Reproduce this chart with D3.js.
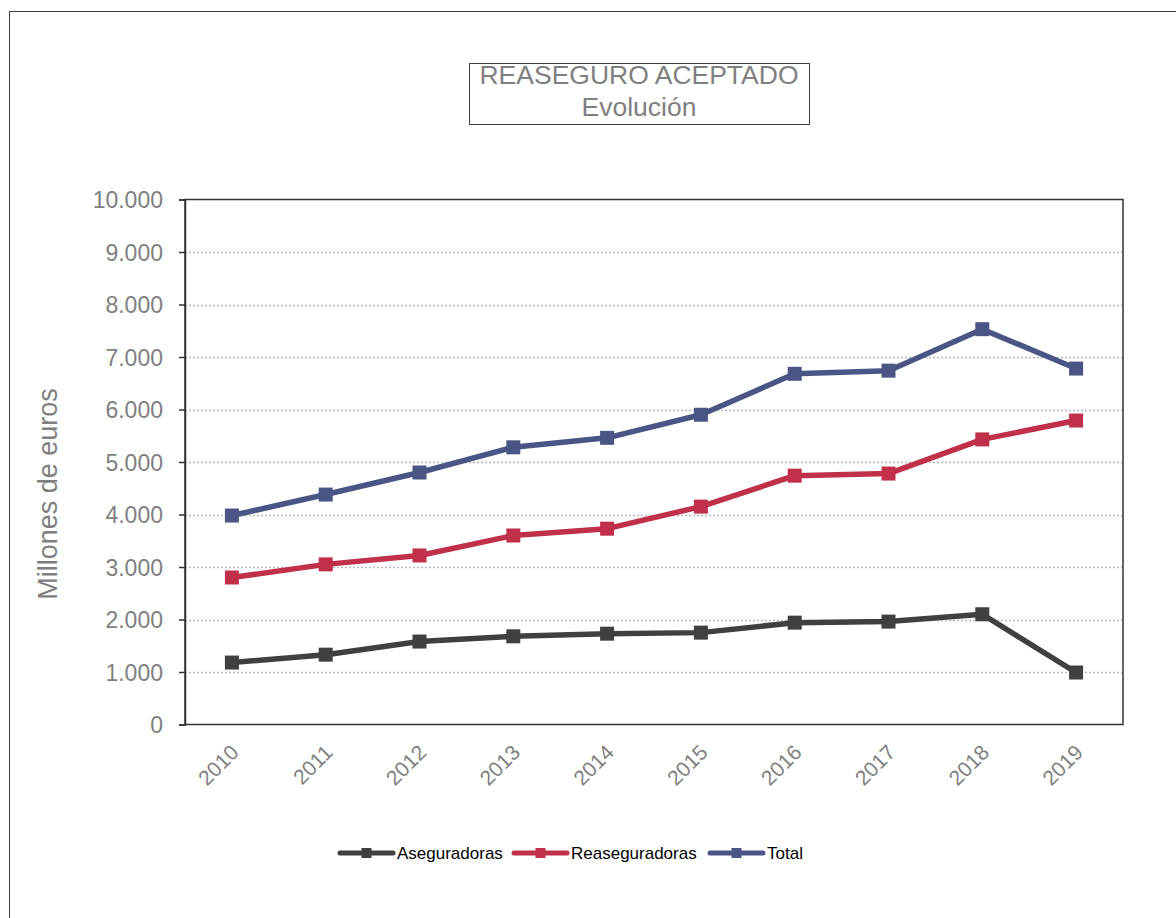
<!DOCTYPE html>
<html>
<head>
<meta charset="utf-8">
<script src="https://cdn.jsdelivr.net/npm/d3@7"></script>
<style>
  body { margin: 0; background: #fff; }
  text { font-family: "Liberation Sans", Arial, sans-serif; }
</style>
</head>
<body>
<svg id="chart" width="1176" height="918"></svg>
<script>
const years = ["2010","2011","2012","2013","2014","2015","2016","2017","2018","2019"];
const aseguradoras = [1180, 1330, 1580, 1680, 1730, 1750, 1940, 1960, 2100, 990];
const reaseguradoras = [2800, 3050, 3220, 3600, 3730, 4150, 4740, 4780, 5430, 5790];
const total = [3980, 4380, 4800, 5280, 5460, 5900, 6680, 6740, 7530, 6780];
const yTicks = [0, 1000, 2000, 3000, 4000, 5000, 6000, 7000, 8000, 9000, 10000];
const seriesNames = ["Aseguradoras", "Reaseguradoras", "Total"];
const seriesColors = ["#404040", "#c1304a", "#4a5586"];
const titleLines = ["REASEGURO ACEPTADO", "Evolución"];
const yTitle = "Millones de euros";

const svg = d3.select("#chart");
const fmt = v => d3.format(",")(v).replace(/,/g, ".");

// outer border
svg.append("rect").attr("x", 9.5).attr("y", 11.5).attr("width", 1180).attr("height", 920)
  .attr("fill", "none").attr("stroke", "#404040").attr("stroke-width", 1);

const L = 185, R = 1123, T = 199.5, B = 724.5;
const x = d3.scaleBand().domain(years).range([L, R]);
const y = d3.scaleLinear().domain([0, 10000]).range([B, T]);

// gridlines
svg.append("g").selectAll("line").data(yTicks.filter(d => d > 0 && d < 10000)).join("line")
  .attr("x1", L).attr("x2", R).attr("y1", d => Math.round(y(d)) + 0.5).attr("y2", d => Math.round(y(d)) + 0.5)
  .attr("stroke", "#b8b8b8").attr("stroke-width", 1.3).attr("stroke-dasharray", "2,2");

// plot frame
svg.append("rect").attr("x", L).attr("y", T).attr("width", R - L).attr("height", B - T)
  .attr("fill", "none").attr("stroke", "#333").attr("stroke-width", 1.5);

// y axis
const yAxis = svg.append("g").attr("transform", `translate(${L},0)`)
  .call(d3.axisLeft(y).tickValues(yTicks).tickFormat(fmt).tickSize(6).tickPadding(16));
yAxis.select(".domain").attr("stroke", "#333").attr("stroke-width", 1.5);
yAxis.selectAll(".tick line").attr("stroke", "#333").attr("stroke-width", 1.5);
yAxis.selectAll(".tick text").attr("fill", "#7f7f7f").style("font-size", "23px")
  .style("font-family", '"Liberation Sans", Arial, sans-serif').attr("dy", "0.35em");

// x axis labels
const xAxis = svg.append("g").attr("transform", `translate(0,${B})`)
  .call(d3.axisBottom(x).tickSize(0).tickPadding(0));
xAxis.select(".domain").remove();
xAxis.selectAll(".tick text")
  .attr("fill", "#7f7f7f").style("font-size", "21px")
  .style("font-family", '"Liberation Sans", Arial, sans-serif')
  .attr("text-anchor", "end").attr("dy", "0.35em")
  .attr("transform", "translate(3,24) rotate(-45)");

// y title
svg.append("text").attr("transform", `translate(57,494) rotate(-90)`)
  .attr("text-anchor", "middle").attr("fill", "#7f7f7f").style("font-size", "27px").text(yTitle);

// title box
svg.append("rect").attr("x", 469.5).attr("y", 63.5).attr("width", 340).attr("height", 61)
  .attr("fill", "#fff").attr("stroke", "#404040").attr("stroke-width", 1);
svg.append("text").attr("x", 639).attr("y", 84).attr("text-anchor", "middle").attr("fill", "#7f7f7f")
  .style("font-size", "26.5px").text(titleLines[0]);
svg.append("text").attr("x", 639).attr("y", 116).attr("text-anchor", "middle").attr("fill", "#7f7f7f")
  .style("font-size", "26.5px").text(titleLines[1]);

// series
const data = [aseguradoras, reaseguradoras, total];
const line = d3.line().x((d, i) => x(years[i]) + x.bandwidth() / 2).y(d => y(d));
data.forEach((s, k) => {
  const g = svg.append("g");
  g.append("path").datum(s).attr("d", line).attr("fill", "none")
    .attr("stroke", seriesColors[k]).attr("stroke-width", 5.5).attr("stroke-linejoin", "round");
  g.selectAll("rect").data(s).join("rect")
    .attr("x", (d, i) => x(years[i]) + x.bandwidth() / 2 - 7)
    .attr("y", d => y(d) - 7).attr("width", 14).attr("height", 14)
    .attr("fill", seriesColors[k]);
});

// legend
const legendX = [340, 514, 710];
const ly = 853;
seriesNames.forEach((n, k) => {
  const g = svg.append("g");
  g.append("line").attr("x1", legendX[k]).attr("x2", legendX[k] + 53).attr("y1", ly).attr("y2", ly)
    .attr("stroke", seriesColors[k]).attr("stroke-width", 5).attr("stroke-linecap", "round");
  g.append("rect").attr("x", legendX[k] + 26.5 - 5).attr("y", ly - 5).attr("width", 10).attr("height", 10)
    .attr("fill", seriesColors[k]);
  g.append("text").attr("x", legendX[k] + 57).attr("y", ly).attr("dy", "0.35em")
    .attr("fill", "#000").style("font-size", "17px").text(n);
});
</script>
</body>
</html>
